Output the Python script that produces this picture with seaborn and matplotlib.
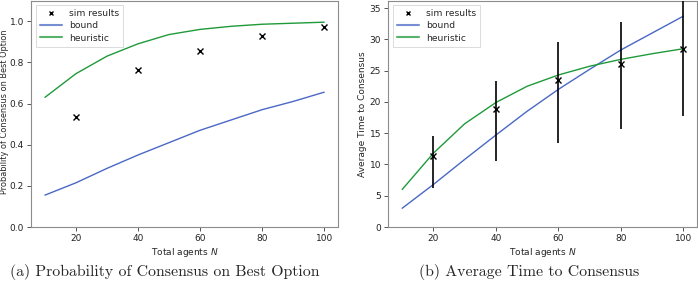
import numpy as np
import pandas as pd
import matplotlib
matplotlib.use("Agg")
import matplotlib.pyplot as plt
from matplotlib.lines import Line2D
import seaborn as sns

# ------------------------------------------------------------
# data
# ------------------------------------------------------------
n_agents = [10, 20, 30, 40, 50, 60, 70, 80, 90, 100]
sim_n = [20, 40, 60, 80, 100]

# (a) probability of consensus on best option
prob_bound = [0.155, 0.215, 0.285, 0.35, 0.41, 0.47, 0.52, 0.57, 0.61, 0.655]
prob_heuristic = [0.63, 0.745, 0.83, 0.89, 0.935, 0.96, 0.975, 0.985, 0.99, 0.995]
prob_sim = [0.535, 0.765, 0.855, 0.93, 0.97]

# (b) average time to consensus
time_bound = [3.0, 6.8, 10.8, 14.7, 18.5, 22.0, 25.2, 28.3, 31.0, 33.7]
time_heuristic = [6.0, 11.8, 16.5, 19.9, 22.5, 24.3, 25.7, 26.8, 27.7, 28.5]
time_sim = [11.4, 18.8, 23.5, 26.0, 28.4]
time_sim_low = [6.2, 10.6, 13.5, 15.6, 17.8]
time_sim_high = [14.5, 23.4, 29.5, 32.8, 39.0]

BLUE = '#4a68c4'
GREEN = '#1f9a3a'

sns.set_style("white", {'axes.edgecolor': '#8c8c8c', 'xtick.bottom': True,
                        'ytick.left': True, 'xtick.color': '#555555',
                        'ytick.color': '#555555'})
plt.rcParams['font.family'] = ['DejaVu Sans']
plt.rcParams['axes.linewidth'] = 0.8

fig = plt.figure(figsize=(6.98, 2.81), dpi=100)
ax1 = fig.add_axes([0.0444, 0.192, 0.44, 0.806])
ax2 = fig.add_axes([0.556, 0.192, 0.443, 0.806])


def draw_panel(ax, bound, heur, sim, yerr=None):
    df = pd.DataFrame({'N': n_agents, 'bound': bound, 'heuristic': heur})
    ax.errorbar(sim_n, sim, yerr=yerr, fmt='x', color='black', ms=3.8,
                mew=1.0, elinewidth=1.2, zorder=3)
    sns.lineplot(data=df, x='N', y='bound', ax=ax, color=BLUE, lw=1.0)
    sns.lineplot(data=df, x='N', y='heuristic', ax=ax, color=GREEN, lw=1.0)
    ax.set_xlim(5.5, 104.5)
    ax.set_xticks([20, 40, 60, 80, 100])
    ax.tick_params(labelsize=6.5, length=3, width=0.7, pad=2,
                   labelcolor='#222222')
    ax.set_xlabel('Total agents $N$', fontsize=6.5, labelpad=2)
    handles = [
        Line2D([], [], ls='none', marker='x', color='black', ms=3.5, mew=1.0),
        Line2D([], [], color=BLUE, lw=1.5, alpha=0.75),
        Line2D([], [], color=GREEN, lw=1.5, alpha=0.75),
    ]
    leg = ax.legend(handles, ['sim results', 'bound', 'heuristic'],
                    loc='upper left', fontsize=6.6, frameon=True,
                    handlelength=2.4, borderpad=0.45, labelspacing=0.35,
                    fancybox=False)
    leg.get_frame().set_edgecolor('#cccccc')
    leg.get_frame().set_linewidth(0.6)


draw_panel(ax1, prob_bound, prob_heuristic, prob_sim)
ax1.set_ylim(0, 1.1)
ax1.set_yticks([0.0, 0.2, 0.4, 0.6, 0.8, 1.0])
ax1.set_ylabel('Probability of Consensus on Best Option', fontsize=5.9)
ax1.yaxis.set_label_coords(-0.073, 0.51)

err = [np.array(time_sim) - np.array(time_sim_low),
       np.array(time_sim_high) - np.array(time_sim)]
draw_panel(ax2, time_bound, time_heuristic, time_sim, yerr=err)
ax2.set_ylim(0, 36.2)
ax2.set_yticks([0, 5, 10, 15, 20, 25, 30, 35])
ax2.set_ylabel('Average Time to Consensus', fontsize=6.5, labelpad=2)

fig.text(0.236, 0.032, '(a) Probability of Consensus on Best Option',
         ha='center', va='center', fontsize=11.4, family=['cmr10'])
fig.text(0.758, 0.032, '(b) Average Time to Consensus',
         ha='center', va='center', fontsize=11.4, family=['cmr10'])

fig.savefig('out.png', dpi=100)
